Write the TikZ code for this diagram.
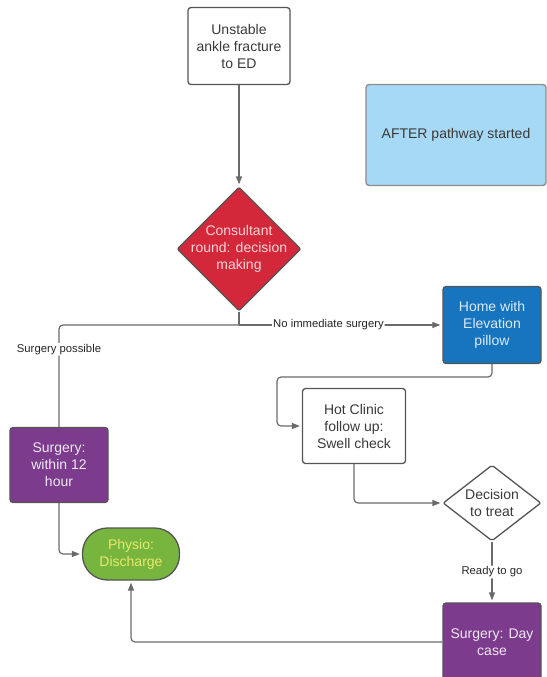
\documentclass[tikz,border=0pt]{standalone}
\usepackage{fontspec}
\setmainfont{Liberation Sans}
\usepackage{xcolor}
\usetikzlibrary{arrows.meta,positioning,shapes.geometric,calc}
\definecolor{edgegray}{HTML}{6A6A6A}
\definecolor{boxgray}{HTML}{555555}
\definecolor{textgray}{HTML}{3A3A3A}
\definecolor{consultred}{HTML}{D2283A}
\definecolor{homeblue}{HTML}{1675BE}
\definecolor{noteblue}{HTML}{A6D9F5}
\definecolor{surgpurple}{HTML}{7C3B8D}
\definecolor{physiogreen}{HTML}{77B53F}
\definecolor{physiotext}{HTML}{E9E86A}
\tikzset{%
  % classes
  stepbox/.style={draw=boxgray, line width=1.3pt, rounded corners=3pt, align=center,
    inner sep=2pt, font=\fontsize{14}{17}\selectfont},
  plain/.style={stepbox, fill=white, text=textgray},
  note/.style={stepbox, draw=black!45, fill=noteblue, text=textgray},
  home/.style={stepbox, fill=homeblue, text=white!85!homeblue},
  surgery/.style={stepbox, fill=surgpurple, text=white!88!surgpurple},
  physio/.style={stepbox, rounded corners=25pt, fill=physiogreen, text=physiotext},
  decide/.style={stepbox, diamond, rounded corners=2pt, inner sep=-12pt},
  % edge styles
  line/.style={draw=edgegray, line width=1.2pt, rounded corners=4pt},
  rel/.style={line, -{Triangle[length=8pt,width=6pt]}, shorten >=2pt},
  edgelabel/.style={font=\fontsize{11.3}{13}\selectfont, fill=white, inner sep=1pt, text=black!85},
}
\begin{document}
\begin{tikzpicture}[x=1pt, y=-1pt]
  \useasboundingbox (0,0) rectangle (546,677);

  \node[plain, minimum width=102, minimum height=77] (start) at (239,46)
    {Unstable\\ankle fracture\\to ED};
  \node[note, minimum width=180, minimum height=101] (after) at (456,135)
    {AFTER pathway started};
  \node[decide, fill=consultred, text=white!80!consultred, minimum width=124, minimum height=124]
    (consult) at (239,249) {Consultant\\round: decision\\making};
  \node[home, minimum width=98, minimum height=77] (home) at (492,325)
    {Home with\\Elevation\\pillow};
  \node[plain, minimum width=103, minimum height=75] (clinic) at (354,426)
    {Hot Clinic\\follow up:\\Swell check};
  \node[decide, fill=white, text=textgray, minimum width=98, minimum height=76]
    (treat) at (492,503) {Decision\\to treat};
  \node[surgery, minimum width=98, minimum height=78] (daycase) at (492,642)
    {Surgery: Day\\case};
  \node[surgery, minimum width=98, minimum height=75] (urgent) at (59,465)
    {Surgery:\\within 12\\hour};
  \node[physio, minimum width=97, minimum height=52] (physio) at (131,554)
    {Physio:\\Discharge};

  \coordinate (split) at (239,325);
  \coordinate (homedrop) at (492,377);
  \coordinate (clinicdrop) at (277,377);

  \draw[rel] (start) -- (consult);
  \draw[line] (consult.south) -- (split);
  \draw[rel] (split) -- node[edgelabel, pos=0.44] {No immediate surgery} (home.west);
  \draw[line] (split) -| node[edgelabel, pos=0.62] {Surgery possible} (urgent.north);
  \draw[rel] (home.south) -- (homedrop) -- (clinicdrop) |- (clinic.west);
  \draw[rel] (clinic.south) |- (treat.west);
  \draw[rel] (treat.south) -- node[edgelabel, pos=0.5] {Ready to go} (daycase.north);
  \draw[rel] (urgent.south) |- (physio.west);
  \draw[rel] (daycase.west) -| (physio.south);

\end{tikzpicture}
\end{document}
